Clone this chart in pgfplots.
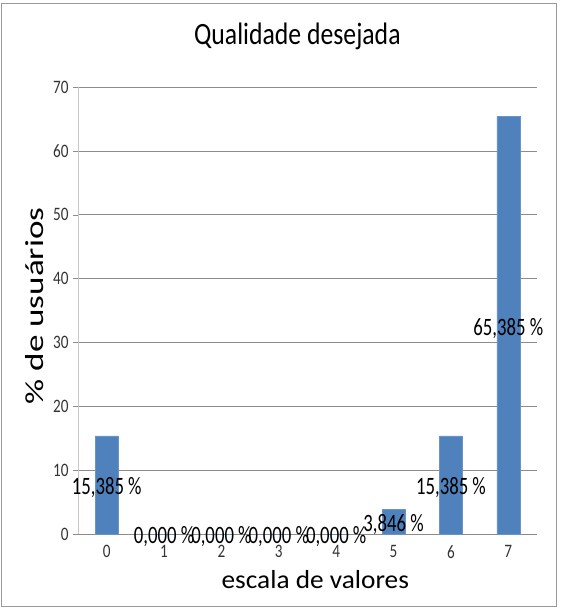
\documentclass[border=0pt]{standalone}
\usepackage{fontspec}
\setmainfont{Carlito}
\newfontfamily\titlefont{Carlito}[FakeStretch=0.83]
\newfontfamily\valuefont{Carlito}[FakeStretch=0.75]
\newfontfamily\tickfont{Carlito}[FakeStretch=0.8]
\newfontfamily\xlabfont{Carlito}[FakeStretch=1.05]
\newfontfamily\ylabfont{Carlito}[FakeStretch=1.35]
\usepackage{pgfplots}
\pgfplotsset{compat=1.18}

\definecolor{barblue}{HTML}{4F81BD}
\definecolor{gridgray}{HTML}{8C8C8C}

\pgfplotstableread{
x  y
0  15.385
1  0
2  0
3  0
4  0
5  3.846
6  15.385
7  65.385
}\qualidade

\begin{document}
\begin{tikzpicture}
\begin{axis}[
  at={(0,0)}, anchor=south west,
  width=459pt, height=447pt, scale only axis,
  xmin=-0.5, xmax=7.5, ymin=0, ymax=70,
  axis lines*=left,
  x axis line style={gridgray},
  y axis line style={gridgray!50},
  xtick={0,...,7},
  major x tick style={draw=none},
  extra x ticks={-0.5,0.5,...,7.5},
  extra x tick labels={},
  extra x tick style={major tick length=5pt, tick align=outside,
    tick style={draw=gridgray}},
  ytick={0,10,...,70},
  major tick length=5pt, tick align=outside,
  major y tick style={draw=gridgray},
  ymajorgrids, grid style={gridgray, line width=0.6pt},
  /pgf/number format/assume math mode=true,
  tick label style={font=\tickfont\fontsize{19}{20}\selectfont, text=black!80},
  yticklabel style={xshift=-1pt},
  xticklabel style={yshift=-3pt},
  title={Qualidade desejada},
  title style={font=\titlefont\fontsize{31}{33}\selectfont, anchor=center, at={(0.478,1.1)}},
  xlabel={escala de valores},
  xlabel style={font=\xlabfont\fontsize{26}{28}\selectfont, anchor=center, at={(0.517,-0.103)}},
  ylabel={\% de usuários},
  ylabel style={font=\ylabfont\fontsize{26}{28}\selectfont, anchor=center, at={(-0.0937,0.51)}},
]
\addplot[ybar, bar width=23pt, fill=barblue, draw=barblue!85!white,
  point meta=y,
  visualization depends on={rawy/2 \as \halfy},
  nodes near coords={\pgfmathprintnumber[fixed,fixed zerofill,precision=3,use comma]{\pgfplotspointmeta}\,\%},
  every node near coord/.append style={anchor=center, text=black,
    font=\valuefont\fontsize{25}{27}\selectfont, yshift=-\halfy*6.3857pt-3pt},
] table[x=x, y=y] {\qualidade};
\end{axis}
% outer frame of the chart area
\draw[gray!80, line width=0.8pt] (-77pt,-72pt) rectangle (478pt,531pt);
\path (-78pt,-74pt) rectangle (485pt,534pt);
\end{tikzpicture}
\end{document}
